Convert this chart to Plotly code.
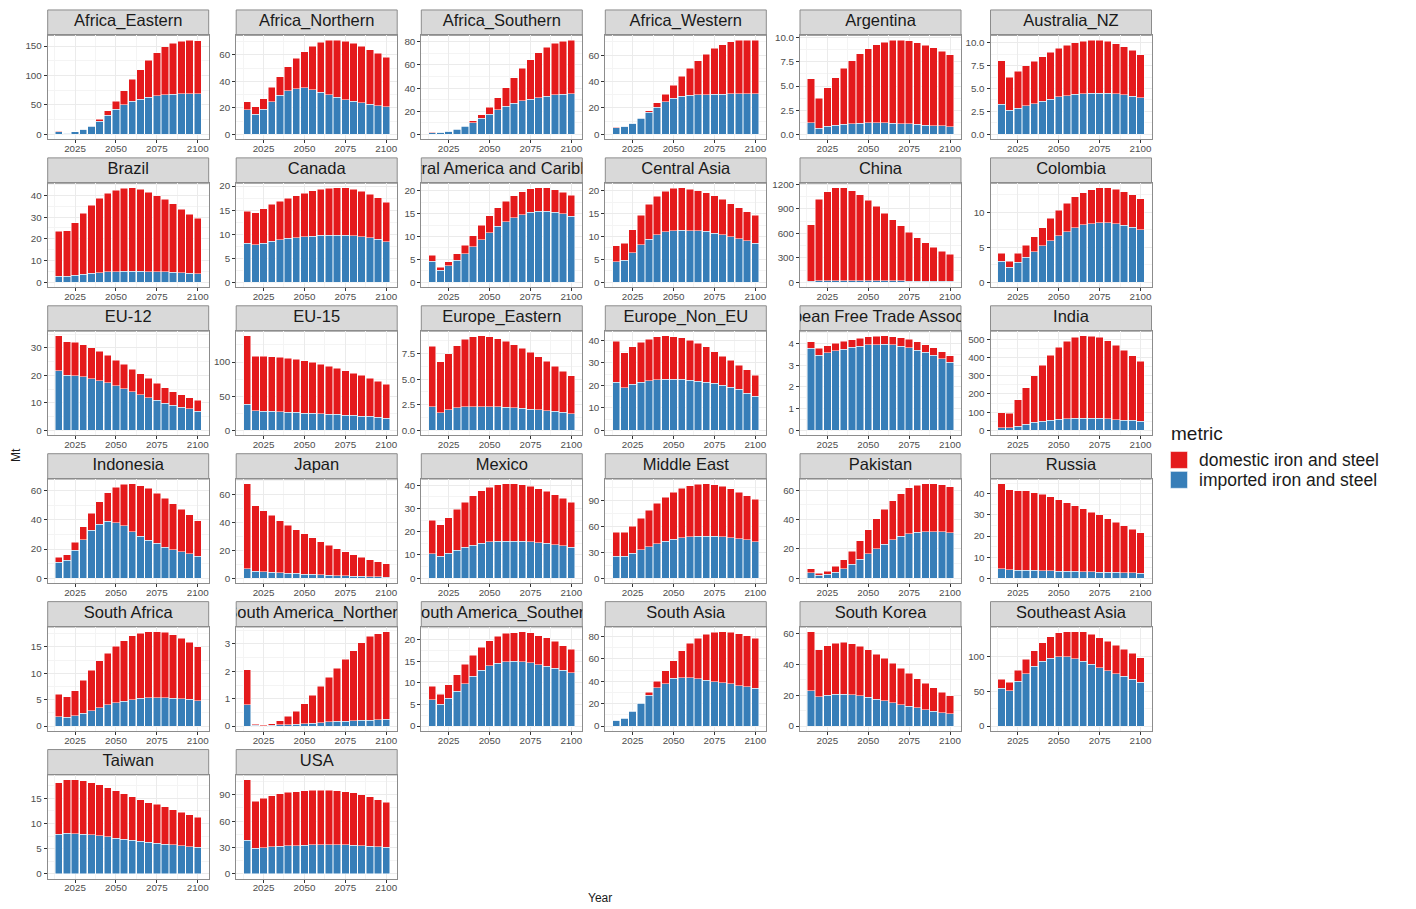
import plotly.graph_objects as go

# ---- data (Mt) -------------------------------------------------------------
years = [2015, 2020, 2025, 2030, 2035, 2040, 2045, 2050, 2055,
         2060, 2065, 2070, 2075, 2080, 2085, 2090, 2095, 2100]

africa_eastern_imp = [4.8, 2.2, 4.3, 8.3, 14.2, 22.7, 32.4, 42.6, 50.0, 56.3, 59.7, 63.1, 65.3, 67.0, 68.2, 69.3, 69.3, 69.3]
africa_eastern_dom = [0.2, 0.1, 0.2, 0.2, 0.6, 2.9, 7.4, 13.7, 24.4, 36.9, 50.3, 62.5, 73.3, 81.9, 86.8, 89.2, 90.9, 89.7]
africa_eastern_ticks = [0, 50, 100, 150]

africa_northern_imp = [18.4, 15.1, 18.9, 24.7, 29.5, 33.0, 34.5, 35.0, 33.5, 31.8, 30.0, 28.0, 26.2, 25.0, 23.7, 22.7, 21.7, 20.7]
africa_northern_dom = [6.3, 5.6, 8.1, 10.8, 14.1, 17.9, 22.7, 27.3, 33.0, 37.5, 40.8, 43.1, 43.9, 43.6, 42.8, 41.1, 39.3, 37.3]
africa_northern_ticks = [0, 20, 40, 60]

africa_southern_imp = [1.6, 1.7, 2.6, 4.3, 6.9, 10.1, 13.9, 17.6, 21.4, 24.5, 26.9, 28.9, 30.3, 31.8, 32.9, 34.1, 34.7, 35.2]
africa_southern_dom = [0.1, 0.1, 0.3, 0.4, 0.5, 1.5, 2.9, 5.8, 10.1, 15.6, 21.9, 28.0, 34.1, 38.7, 42.5, 44.5, 45.6, 46.3]
africa_southern_ticks = [0, 20, 40, 60, 80]

africa_western_imp = [5.1, 6.1, 8.3, 12.2, 16.7, 20.5, 24.6, 27.3, 28.9, 29.6, 29.9, 30.1, 30.4, 30.4, 30.6, 30.9, 30.9, 30.9]
africa_western_dom = [0.2, 0.2, 0.3, 0.5, 1.0, 3.3, 5.8, 9.9, 15.2, 20.5, 25.8, 30.7, 34.7, 37.4, 39.5, 40.5, 40.5, 40.5]
africa_western_ticks = [0, 20, 40, 60]

argentina_imp = [1.22, 0.66, 0.83, 0.97, 1.04, 1.08, 1.15, 1.18, 1.18, 1.18, 1.15, 1.11, 1.08, 1.04, 0.97, 0.90, 0.87, 0.80]
argentina_dom = [4.54, 3.09, 4.00, 4.90, 5.80, 6.56, 7.18, 7.67, 8.09, 8.37, 8.57, 8.65, 8.61, 8.44, 8.27, 8.06, 7.74, 7.46]
argentina_ticks = [0, 2.5, 5, 7.5, 10]

australia_nz_imp = [3.31, 2.61, 2.87, 3.13, 3.35, 3.60, 3.82, 4.08, 4.23, 4.38, 4.45, 4.49, 4.49, 4.49, 4.41, 4.30, 4.15, 3.97]
australia_nz_dom = [4.70, 3.60, 4.01, 4.33, 4.63, 4.86, 5.11, 5.30, 5.48, 5.62, 5.73, 5.80, 5.80, 5.66, 5.48, 5.26, 5.00, 4.71]
australia_nz_ticks = [0, 2.5, 5, 7.5, 10]

brazil_imp = [2.8, 2.8, 3.2, 3.7, 4.2, 4.5, 4.8, 4.9, 5.1, 5.1, 5.1, 4.9, 4.9, 4.8, 4.6, 4.3, 4.2, 3.9]
brazil_dom = [20.7, 20.8, 24.3, 28.1, 31.2, 34.1, 36.1, 37.4, 38.1, 38.3, 37.7, 36.6, 35.0, 33.3, 31.5, 29.4, 27.2, 25.6]
brazil_ticks = [0, 10, 20, 30, 40]

canada_imp = [8.1, 7.8, 8.1, 8.5, 8.8, 9.1, 9.3, 9.5, 9.6, 9.8, 9.8, 9.8, 9.8, 9.7, 9.5, 9.3, 8.9, 8.4]
canada_dom = [6.7, 6.6, 7.2, 7.7, 8.0, 8.4, 8.7, 9.0, 9.4, 9.5, 9.7, 9.8, 9.8, 9.6, 9.4, 9.0, 8.7, 8.2]
canada_ticks = [0, 5, 10, 15, 20]

central_america_imp = [4.6, 2.6, 3.6, 4.8, 6.2, 7.8, 9.3, 10.8, 12.2, 13.2, 14.1, 14.8, 15.3, 15.5, 15.5, 15.3, 15.0, 14.4]
central_america_dom = [1.3, 0.7, 0.9, 1.4, 1.9, 2.4, 3.2, 3.7, 4.1, 4.5, 4.8, 5.0, 5.1, 5.1, 5.1, 4.9, 4.7, 4.6]
central_america_ticks = [0, 5, 10, 15, 20]

central_asia_imp = [4.5, 4.8, 6.4, 8.2, 9.4, 10.4, 11.0, 11.3, 11.4, 11.3, 11.2, 11.1, 10.7, 10.4, 9.9, 9.5, 9.1, 8.5]
central_asia_dom = [3.5, 3.7, 5.1, 6.4, 7.6, 8.4, 8.9, 9.2, 9.2, 9.0, 8.8, 8.5, 8.2, 7.7, 7.3, 6.8, 6.3, 6.1]
central_asia_ticks = [0, 5, 10, 15, 20]

china_imp = [12, 18, 20, 22, 22, 22, 21, 20, 19, 18, 17, 16, 15, 14, 13, 12, 11, 10]
china_dom = [691, 1001, 1090, 1133, 1133, 1100, 1048, 983, 910, 825, 748, 675, 597, 533, 472, 416, 367, 331]
china_ticks = [0, 300, 600, 900, 1200]

colombia_imp = [3.01, 2.11, 2.87, 3.54, 4.35, 5.22, 5.89, 6.60, 7.22, 7.80, 8.18, 8.37, 8.47, 8.47, 8.33, 8.13, 7.85, 7.51]
colombia_dom = [1.15, 0.86, 1.24, 1.72, 2.16, 2.58, 3.25, 3.64, 4.07, 4.35, 4.60, 4.84, 4.97, 4.97, 4.92, 4.74, 4.59, 4.40]
colombia_ticks = [0, 5, 10]

eu12_imp = [21.7, 20.1, 19.9, 19.5, 18.8, 18.0, 17.3, 16.2, 15.1, 14.1, 13.0, 11.9, 10.9, 9.9, 9.1, 8.4, 7.8, 7.0]
eu12_dom = [12.7, 12.2, 12.2, 11.7, 11.3, 10.7, 10.0, 9.3, 8.9, 8.2, 7.6, 7.0, 6.3, 5.6, 5.0, 4.5, 4.1, 3.9]
eu12_ticks = [0, 10, 20, 30]

eu15_imp = [37.9, 28.6, 28.1, 27.6, 27.1, 26.6, 26.1, 25.1, 24.6, 24.1, 23.6, 23.2, 22.2, 21.7, 20.7, 20.2, 19.2, 17.7]
eu15_dom = [100.5, 79.8, 80.3, 80.3, 79.8, 78.8, 77.8, 76.8, 74.9, 72.5, 70.5, 67.4, 65.0, 62.0, 59.6, 55.7, 52.8, 49.8]
eu15_ticks = [0, 50, 100]

europe_eastern_imp = [2.28, 1.73, 2.00, 2.18, 2.28, 2.31, 2.31, 2.31, 2.28, 2.25, 2.20, 2.15, 2.08, 2.00, 1.93, 1.85, 1.75, 1.62]
europe_eastern_dom = [5.96, 4.97, 5.50, 6.12, 6.62, 6.84, 6.94, 6.84, 6.67, 6.45, 6.20, 5.90, 5.57, 5.20, 4.82, 4.40, 4.05, 3.73]
europe_eastern_ticks = [0, 2.5, 5, 7.5]

europe_non_eu_imp = [21.5, 19.0, 20.4, 21.5, 22.1, 22.5, 22.8, 22.8, 22.7, 22.4, 21.9, 21.5, 20.9, 20.0, 19.1, 18.2, 16.5, 15.1]
europe_non_eu_dom = [18.1, 15.5, 16.8, 17.8, 18.5, 19.1, 19.3, 19.0, 18.5, 17.7, 16.9, 15.7, 14.2, 13.1, 12.1, 10.7, 10.5, 9.4]
europe_non_eu_ticks = [0, 10, 20, 30, 40]

efta_imp = [3.78, 3.47, 3.58, 3.67, 3.75, 3.83, 3.89, 3.94, 3.95, 3.97, 3.94, 3.88, 3.81, 3.70, 3.60, 3.47, 3.30, 3.13]
efta_dom = [0.31, 0.31, 0.33, 0.35, 0.36, 0.36, 0.37, 0.37, 0.39, 0.39, 0.39, 0.40, 0.39, 0.39, 0.35, 0.34, 0.33, 0.31]
efta_ticks = [0, 1, 2, 3, 4]

india_imp = [13, 15, 22, 33, 43, 50, 56, 61, 63, 65, 67, 67, 65, 63, 59, 56, 54, 50]
india_dom = [83, 79, 145, 200, 257, 309, 357, 396, 428, 446, 453, 452, 446, 430, 410, 385, 357, 331]
india_ticks = [0, 100, 200, 300, 400, 500]

indonesia_imp = [11.0, 12.2, 19.1, 26.4, 32.9, 37.0, 38.9, 38.0, 35.9, 32.0, 28.7, 26.0, 23.9, 21.1, 19.5, 18.2, 16.8, 15.2]
indonesia_dom = [3.5, 3.7, 5.7, 8.8, 11.5, 15.6, 19.7, 24.5, 28.5, 32.8, 34.7, 35.6, 34.3, 33.6, 31.5, 29.2, 26.9, 24.3]
indonesia_ticks = [0, 20, 40, 60]

japan_imp = [6.8, 4.8, 4.6, 4.4, 3.9, 3.6, 3.4, 2.9, 2.7, 2.4, 2.2, 1.9, 1.7, 1.5, 1.2, 1.0, 1.0, 0.7]
japan_dom = [61.2, 47.5, 44.1, 40.9, 37.5, 34.4, 31.5, 29.1, 26.4, 23.8, 21.5, 19.4, 17.4, 15.4, 13.8, 12.4, 10.9, 9.7]
japan_ticks = [0, 20, 40, 60]

mexico_imp = [10.5, 9.5, 10.7, 12.1, 13.3, 14.2, 15.0, 15.6, 15.9, 16.0, 16.0, 15.9, 15.7, 15.3, 15.0, 14.4, 14.0, 13.4]
mexico_dom = [14.5, 13.5, 15.4, 17.6, 19.5, 21.3, 22.7, 23.7, 24.4, 24.7, 24.7, 24.4, 24.0, 23.3, 22.4, 21.5, 20.5, 19.4]
mexico_ticks = [0, 10, 20, 30, 40]

middle_east_imp = [25.3, 25.3, 28.8, 32.7, 36.6, 40.1, 42.9, 45.2, 46.8, 47.9, 48.7, 48.7, 48.7, 47.9, 47.1, 45.6, 44.4, 42.5]
middle_east_dom = [27.7, 27.7, 31.6, 37.0, 42.1, 46.8, 51.0, 54.5, 57.6, 59.2, 60.0, 60.8, 59.6, 58.8, 56.5, 54.1, 51.4, 49.0]
middle_east_ticks = [0, 30, 60, 90]

pakistan_imp = [3.7, 2.1, 2.5, 4.1, 6.4, 9.4, 12.9, 16.6, 20.0, 23.2, 26.2, 28.7, 30.3, 31.3, 31.7, 31.7, 31.5, 31.0]
pakistan_dom = [2.7, 1.3, 2.3, 3.9, 6.0, 9.0, 12.6, 16.5, 20.5, 23.9, 26.7, 29.0, 31.3, 32.1, 32.7, 32.7, 32.2, 31.3]
pakistan_ticks = [0, 20, 40, 60]

russia_imp = [4.5, 4.0, 3.8, 3.8, 3.7, 3.5, 3.5, 3.3, 3.2, 3.2, 3.0, 3.0, 2.9, 2.9, 2.7, 2.5, 2.5, 2.4]
russia_dom = [40.3, 37.9, 37.6, 37.6, 36.9, 36.3, 35.2, 33.8, 32.5, 31.2, 30.0, 28.4, 27.1, 25.3, 23.8, 22.4, 20.6, 19.1]
russia_ticks = [0, 10, 20, 30, 40]

south_africa_imp = [1.8, 1.7, 2.0, 2.4, 2.9, 3.5, 4.0, 4.4, 4.7, 5.0, 5.3, 5.4, 5.4, 5.4, 5.3, 5.2, 5.1, 4.8]
south_africa_dom = [4.2, 3.9, 4.7, 6.3, 7.7, 8.9, 9.8, 10.7, 11.5, 12.1, 12.3, 12.5, 12.5, 12.4, 12.0, 11.5, 10.8, 10.2]
south_africa_ticks = [0, 5, 10, 15]

sa_northern_imp = [0.77, 0.03, 0.02, 0.03, 0.04, 0.05, 0.07, 0.09, 0.11, 0.13, 0.15, 0.17, 0.18, 0.20, 0.21, 0.22, 0.23, 0.24]
sa_northern_dom = [1.28, 0.03, 0.03, 0.05, 0.15, 0.31, 0.48, 0.72, 1.01, 1.32, 1.63, 1.95, 2.27, 2.55, 2.84, 3.06, 3.15, 3.21]
sa_northern_ticks = [0, 1, 2, 3]

sa_southern_imp = [6.1, 5.0, 6.4, 8.0, 9.8, 11.5, 12.9, 13.9, 14.5, 14.9, 15.0, 14.9, 14.6, 14.2, 13.8, 13.3, 12.9, 12.3]
sa_southern_dom = [3.1, 2.4, 3.1, 3.9, 4.5, 4.9, 5.3, 5.8, 6.3, 6.5, 6.6, 6.9, 6.9, 6.7, 6.6, 6.3, 5.7, 5.4]
sa_southern_ticks = [0, 5, 10, 15, 20]

south_asia_imp = [5.3, 6.9, 13.2, 20.5, 27.4, 34.3, 37.9, 42.7, 43.3, 43.0, 42.1, 40.9, 39.7, 38.5, 37.6, 36.1, 34.9, 33.7]
south_asia_dom = [0.1, 0.3, 0.6, 0.3, 2.7, 5.7, 11.4, 15.6, 24.1, 31.0, 36.4, 40.9, 43.9, 45.7, 46.3, 46.3, 45.7, 44.8]
south_asia_ticks = [0, 20, 40, 60, 80]

south_korea_imp = [22.9, 19.0, 19.9, 20.6, 20.8, 20.4, 19.7, 18.8, 17.6, 16.4, 15.1, 14.0, 12.9, 11.8, 10.6, 9.5, 8.7, 7.9]
south_korea_dom = [38.5, 30.6, 32.5, 33.4, 33.6, 33.1, 32.2, 30.8, 29.2, 27.6, 25.7, 23.5, 21.4, 19.0, 17.2, 15.3, 13.3, 11.9]
south_korea_ticks = [0, 20, 40, 60]

southeast_asia_imp = [54.1, 50.2, 63.9, 75.1, 85.9, 92.7, 97.1, 99.5, 99.0, 96.6, 92.7, 88.3, 83.4, 79.0, 75.1, 71.2, 67.3, 62.4]
southeast_asia_dom = [13.2, 12.2, 15.6, 20.5, 21.9, 26.3, 30.7, 33.7, 36.0, 38.4, 41.9, 42.9, 42.9, 42.5, 40.5, 38.6, 36.6, 35.2]
southeast_asia_ticks = [0, 50, 100]

taiwan_imp = [7.83, 8.03, 7.96, 7.83, 7.76, 7.56, 7.37, 7.10, 6.90, 6.70, 6.50, 6.24, 6.10, 5.90, 5.77, 5.57, 5.44, 5.31]
taiwan_dom = [10.22, 10.67, 10.69, 10.62, 10.34, 10.14, 9.73, 9.35, 8.96, 8.56, 8.16, 7.89, 7.70, 7.44, 6.97, 6.71, 6.31, 5.90]
taiwan_ticks = [0, 5, 10, 15]

usa_imp = [38.0, 29.2, 30.0, 30.8, 31.5, 31.9, 32.3, 32.7, 33.0, 33.0, 33.4, 33.4, 33.0, 32.7, 32.3, 31.5, 31.1, 30.4]
usa_dom = [69.1, 53.2, 55.8, 58.1, 59.6, 60.8, 61.1, 61.5, 61.9, 61.9, 61.5, 61.2, 60.4, 59.2, 57.7, 55.9, 53.2, 50.9]
usa_ticks = [0, 30, 60, 90]

x_ticks = [2025, 2050, 2075, 2100]

regions = [
    ("Africa_Eastern", africa_eastern_imp, africa_eastern_dom, africa_eastern_ticks),
    ("Africa_Northern", africa_northern_imp, africa_northern_dom, africa_northern_ticks),
    ("Africa_Southern", africa_southern_imp, africa_southern_dom, africa_southern_ticks),
    ("Africa_Western", africa_western_imp, africa_western_dom, africa_western_ticks),
    ("Argentina", argentina_imp, argentina_dom, argentina_ticks),
    ("Australia_NZ", australia_nz_imp, australia_nz_dom, australia_nz_ticks),
    ("Brazil", brazil_imp, brazil_dom, brazil_ticks),
    ("Canada", canada_imp, canada_dom, canada_ticks),
    ("Central America and Caribbean", central_america_imp, central_america_dom, central_america_ticks),
    ("Central Asia", central_asia_imp, central_asia_dom, central_asia_ticks),
    ("China", china_imp, china_dom, china_ticks),
    ("Colombia", colombia_imp, colombia_dom, colombia_ticks),
    ("EU-12", eu12_imp, eu12_dom, eu12_ticks),
    ("EU-15", eu15_imp, eu15_dom, eu15_ticks),
    ("Europe_Eastern", europe_eastern_imp, europe_eastern_dom, europe_eastern_ticks),
    ("Europe_Non_EU", europe_non_eu_imp, europe_non_eu_dom, europe_non_eu_ticks),
    ("European Free Trade Association", efta_imp, efta_dom, efta_ticks),
    ("India", india_imp, india_dom, india_ticks),
    ("Indonesia", indonesia_imp, indonesia_dom, indonesia_ticks),
    ("Japan", japan_imp, japan_dom, japan_ticks),
    ("Mexico", mexico_imp, mexico_dom, mexico_ticks),
    ("Middle East", middle_east_imp, middle_east_dom, middle_east_ticks),
    ("Pakistan", pakistan_imp, pakistan_dom, pakistan_ticks),
    ("Russia", russia_imp, russia_dom, russia_ticks),
    ("South Africa", south_africa_imp, south_africa_dom, south_africa_ticks),
    ("South America_Northern", sa_northern_imp, sa_northern_dom, sa_northern_ticks),
    ("South America_Southern", sa_southern_imp, sa_southern_dom, sa_southern_ticks),
    ("South Asia", south_asia_imp, south_asia_dom, south_asia_ticks),
    ("South Korea", south_korea_imp, south_korea_dom, south_korea_ticks),
    ("Southeast Asia", southeast_asia_imp, southeast_asia_dom, southeast_asia_ticks),
    ("Taiwan", taiwan_imp, taiwan_dom, taiwan_ticks),
    ("USA", usa_imp, usa_dom, usa_ticks),
]

# ---- styling ---------------------------------------------------------------
RED = "#E41A1C"
BLUE = "#377EB8"
FONT = "Liberation Sans, Arial, sans-serif"
BORDER = "#8C8C8C"
GRID_MAJOR = "#EBEBEB"
GRID_MINOR = "#F4F4F4"
TICK_FONT = dict(family=FONT, size=9.8, color="#4D4D4D")

W, H = 1416, 909
COLS = 6
col_left = [47.7, 236.2, 421.3, 605.3, 800.0, 990.5]
panel_w = 161.0
strip_h = 25.5
plot_h = 104.5
row_pitch = 148.9
first_row_top = 5.0

BAR_WIDTH = 4.5
x_lo = years[0] - BAR_WIDTH / 2
x_hi = years[-1] + BAR_WIDTH / 2
x_pad = 0.05 * (x_hi - x_lo)
x_range = [x_lo - x_pad, x_hi + x_pad]


def fmt_ticks(vals):
    if all(float(v).is_integer() for v in vals):
        return [str(int(v)) for v in vals]
    return [f"{v:.1f}" for v in vals]


def ref(prefix, k):
    return prefix if k == 1 else f"{prefix}{k}"


fig = go.Figure()
layout = dict(
    width=W, height=H,
    margin=dict(l=0, r=0, t=0, b=0),
    paper_bgcolor="white", plot_bgcolor="white",
    barmode="stack", showlegend=False,
    font=dict(family=FONT),
)
shapes = []
annotations = []
n_panels = len(regions)

for i, (name, imp, dom, yt) in enumerate(regions):
    r, c = divmod(i, COLS)
    k = i + 1
    s = i + 1 + n_panels
    left = col_left[c]
    top = first_row_top + r * row_pitch
    x_dom = [left / W, (left + panel_w) / W]
    strip_dom = [1 - (top + strip_h) / H, 1 - top / H]
    plot_dom = [1 - (top + strip_h + plot_h) / H, 1 - (top + strip_h) / H]

    # stacked bars: imported at the bottom, domestic on top
    fig.add_trace(go.Bar(x=years, y=imp, width=BAR_WIDTH, name="imported iron and steel",
                         marker=dict(color=BLUE, line=dict(color="white", width=0.5)),
                         xaxis=ref("x", k), yaxis=ref("y", k), hoverinfo="x+y"))
    fig.add_trace(go.Bar(x=years, y=dom, width=BAR_WIDTH, name="domestic iron and steel",
                         marker=dict(color=RED, line=dict(color="white", width=0.5)),
                         xaxis=ref("x", k), yaxis=ref("y", k), hoverinfo="x+y"))

    ymax = max(a + b for a, b in zip(imp, dom))
    step = yt[1] - yt[0]

    layout[f"xaxis{k}"] = dict(
        domain=x_dom, anchor=ref("y", k), range=x_range,
        tickmode="array", tickvals=x_ticks, ticktext=[str(v) for v in x_ticks],
        ticks="outside", ticklen=3, tickwidth=1, tickcolor="#333333",
        ticklabelstandoff=-3,
        tickfont=TICK_FONT, showgrid=True, gridcolor=GRID_MAJOR, gridwidth=1,
        minor=dict(tickmode="linear", tick0=years[0] - 2.5, dtick=12.5,
                   showgrid=True, gridcolor=GRID_MINOR, gridwidth=0.6, ticks=""),
        showline=True, mirror=True, linecolor=BORDER, linewidth=1,
        zeroline=False, fixedrange=True,
    )
    layout[f"yaxis{k}"] = dict(
        domain=plot_dom, anchor=ref("x", k), range=[-0.05 * ymax, 1.05 * ymax],
        tickmode="array", tickvals=yt, ticktext=fmt_ticks(yt),
        ticks="outside", ticklen=3, tickwidth=1, tickcolor="#333333",
        tickfont=TICK_FONT, showgrid=True, gridcolor=GRID_MAJOR, gridwidth=1,
        minor=dict(tickmode="linear", tick0=0, dtick=step / 2,
                   showgrid=True, gridcolor=GRID_MINOR, gridwidth=0.6, ticks=""),
        showline=True, mirror=True, linecolor=BORDER, linewidth=1,
        zeroline=False, fixedrange=True,
    )

    # facet strip: own little subplot so the label is clipped to the strip
    layout[f"xaxis{s}"] = dict(domain=x_dom, anchor=f"y{s}", range=[0, 1],
                               visible=False, fixedrange=True)
    layout[f"yaxis{s}"] = dict(domain=strip_dom, anchor=f"x{s}", range=[0, 1],
                               visible=False, fixedrange=True)
    shapes.append(dict(type="rect", xref=f"x{s} domain", yref=f"y{s} domain",
                       x0=0, x1=1, y0=0, y1=1, layer="below",
                       fillcolor="#D9D9D9", line=dict(color=BORDER, width=1)))
    fig.add_trace(go.Scatter(x=[0.5], y=[0.53], mode="text", text=[name],
                             textposition="middle center", cliponaxis=True,
                             textfont=dict(family=FONT, size=16.5, color="#1A1A1A"),
                             xaxis=f"x{s}", yaxis=f"y{s}", hoverinfo="skip"))

# axis titles
annotations.append(dict(text="Year", x=600 / W, y=1 - 899 / H, xref="paper", yref="paper",
                        showarrow=False, xanchor="center", yanchor="middle",
                        font=dict(family=FONT, size=12, color="#1A1A1A")))
annotations.append(dict(text="Mt", x=16 / W, y=1 - 453 / H, xref="paper", yref="paper",
                        showarrow=False, xanchor="center", yanchor="middle", textangle=-90,
                        font=dict(family=FONT, size=12, color="#1A1A1A")))

# legend
annotations.append(dict(text="metric", x=1169 / W, y=1 - 431 / H, xref="paper", yref="paper",
                        showarrow=False, xanchor="left", yanchor="middle",
                        font=dict(family=FONT, size=19, color="#1A1A1A")))
legend_items = [("domestic iron and steel", RED, 449.5), ("imported iron and steel", BLUE, 469.5)]
for label, color, y0 in legend_items:
    shapes.append(dict(type="rect", xref="paper", yref="paper",
                       x0=1170.5 / W, x1=1187.5 / W, y0=1 - (y0 + 17) / H, y1=1 - y0 / H,
                       fillcolor=color, line=dict(color="white", width=0.5)))
    annotations.append(dict(text=label, x=1197 / W, y=1 - (y0 + 8.5) / H, xref="paper", yref="paper",
                            showarrow=False, xanchor="left", yanchor="middle",
                            font=dict(family=FONT, size=17.5, color="#1A1A1A")))

layout["shapes"] = shapes
layout["annotations"] = annotations
fig.update_layout(**layout)
fig.write_html("out.html")
